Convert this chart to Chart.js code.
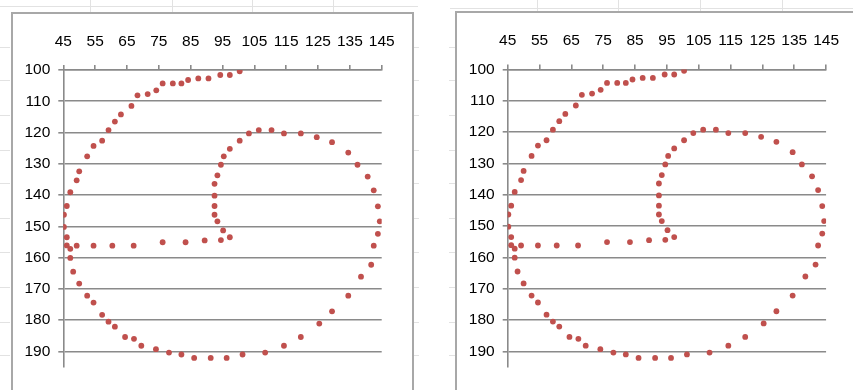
<!DOCTYPE html>
<html>
<head>
<meta charset="utf-8">
<title>Scatter 6</title>
<script src="https://cdn.jsdelivr.net/npm/chart.js@4.4.1/dist/chart.umd.min.js"></script>
<style>
    html, body { margin: 0; padding: 0; background: #fff; }
    body { width: 853px; height: 390px; position: relative; overflow: hidden; }
    .frame { position: absolute; border: 2px solid #a8a8a8; background: #fff; box-sizing: border-box; }
    .sheet { position: absolute; background: #e2e2e2; }
    canvas { position: absolute; }
</style>
</head>
<body>
<div class="frame" style="left:11px; top:12px; width:403px; height:400px;"></div>
<div class="frame" style="left:455px; top:11px; width:420px; height:400px;"></div>
<canvas id="chartLeft" width="399" height="376" style="left:13px; top:14px;"></canvas>
<canvas id="chartRight" width="396" height="377" style="left:457px; top:13px;"></canvas>
<script>
// values (x axis on top, y axis reversed)
const xTickValues = [45, 55, 65, 75, 85, 95, 105, 115, 125, 135, 145];
const yTickValues = [100, 110, 120, 130, 140, 150, 160, 170, 180, 190];

// outer loop: top arc, left side, bottom, right side, back over the inner top
const outerX = [100.4, 97.3, 94.3, 90.6, 87.4, 84.2, 82.1, 79.4, 76.2, 74.2, 71.5, 68.3, 66.4, 63.1, 61.2,
    59.2, 57.2, 54.5, 52.5, 50.0, 49.2, 47.2, 46.1, 45.2, 45.2, 46.1, 46.1, 47.2, 47.2, 48.1, 50.0,
    52.5, 54.5, 57.2, 59.2, 61.2, 64.4, 67.2, 69.5, 74.1, 78.2, 82.1, 86.1, 91.3, 96.3, 101.3, 108.4,
    114.3, 119.6, 125.4, 129.4, 134.5, 138.5, 141.7, 142.5, 143.8, 144.4, 143.8, 142.5, 140.6, 137.4,
    134.5, 129.4, 124.6, 119.6, 114.3, 110.4, 106.4, 103.3, 100.4, 97.3, 95.4];
const outerY = [100.4, 101.6, 101.6, 102.7, 102.7, 103.2, 104.3, 104.3, 104.3, 106.5, 107.7, 108.1, 111.5, 114.2, 116.5,
    119.2, 122.6, 124.3, 127.6, 132.4, 135.3, 139.1, 143.5, 146.3, 150.2, 153.5, 156.1, 157.2, 160.1, 164.5, 168.3,
    172.2, 174.4, 178.3, 180.5, 182.1, 185.4, 186.0, 188.2, 189.3, 190.4, 191.0, 192.1, 192.1, 192.1, 191.0, 190.4,
    188.2, 185.4, 181.1, 177.2, 172.2, 166.1, 162.3, 156.2, 152.4, 148.4, 143.6, 138.5, 134.1, 130.3,
    126.4, 123.1, 121.5, 120.3, 120.3, 119.2, 119.2, 120.3, 122.6, 125.2, 127.6];

// inner stem going down, with the little hook
const stemX = [94.5, 93.4, 92.5, 92.5, 92.5, 92.5, 93.4, 95.2, 97.3];
const stemY = [130.3, 133.7, 136.4, 140.2, 143.5, 146.3, 148.4, 151.3, 153.5];

// cross bar back to the left side
const barX = [94.5, 89.4, 83.4, 76.2, 67.1, 60.4, 54.5, 49.2];
const barY = [154.4, 154.5, 155.1, 155.1, 156.2, 156.2, 156.2, 156.2];

const pointColor = '#C0504D';
const gridColor = '#8a8a8a';
const labelFont = { family: '"Liberation Sans", Arial, sans-serif', size: 15.5 };

function buildPoints() {
    const pts = [];
    outerX.forEach((x, i) => pts.push({ x: x, y: outerY[i] }));
    stemX.forEach((x, i) => pts.push({ x: x, y: stemY[i] }));
    barX.forEach((x, i) => pts.push({ x: x, y: barY[i] }));
    return pts;
}

// box = fixed sizes so the plot area lands where the picture has it
function makeChart(canvasId, box) {
    const ctx = document.getElementById(canvasId).getContext('2d');
    return new Chart(ctx, {
        type: 'scatter',
        data: {
            datasets: [{
                data: buildPoints(),
                pointRadius: 2.9,
                pointHoverRadius: 2.9,
                pointBackgroundColor: pointColor,
                pointBorderWidth: 0,
                showLine: false
            }]
        },
        options: {
            responsive: false,
            animation: false,
            devicePixelRatio: 1,
            layout: { padding: { left: 0, top: 0, right: box.right, bottom: box.bottom } },
            plugins: { legend: { display: false }, tooltip: { enabled: false } },
            scales: {
                x: {
                    type: 'linear',
                    position: 'top',
                    min: 45, max: 145,
                    afterBuildTicks: s => { s.ticks = xTickValues.map(v => ({ value: v })); },
                    afterFit: s => { s.height = box.top; },
                    grid: { drawOnChartArea: false, drawTicks: true, tickLength: 5, color: gridColor, lineWidth: 1.6 },
                    border: { color: gridColor, width: 1.6 },
                    ticks: { autoSkip: false, maxRotation: 0, padding: 14, color: '#000', font: labelFont }
                },
                y: {
                    type: 'linear',
                    reverse: true,
                    min: 100, max: 195,
                    afterBuildTicks: s => { s.ticks = yTickValues.map(v => ({ value: v })); },
                    afterFit: s => { s.width = box.left; },
                    grid: { drawTicks: true, tickLength: 5, color: gridColor, lineWidth: 1.6 },
                    border: { color: gridColor, width: 1.6 },
                    ticks: { autoSkip: false, padding: 8, color: '#000', font: labelFont }
                }
            }
        }
    });
}

// faint spreadsheet cell lines peeking out round the charts
function sheetLine(x, y, w, h) {
    const d = document.createElement('div');
    d.className = 'sheet';
    d.style.left = x + 'px';
    d.style.top = y + 'px';
    d.style.width = w + 'px';
    d.style.height = h + 'px';
    document.body.insertBefore(d, document.body.firstChild);
}

const sheetRows = [47, 80, 115, 150, 183, 218, 252, 287, 322, 355];
const sheetColsLeft = [90, 172, 252, 333];
const sheetColsRight = [537, 618, 700, 782];

sheetLine(0, 6, 418, 1);
sheetLine(450, 8, 403, 1);
sheetColsLeft.forEach(x => sheetLine(x, 0, 1, 12));
sheetColsRight.forEach(x => sheetLine(x, 0, 1, 11));
sheetRows.forEach(y => {
    sheetLine(0, y, 10, 1);
    sheetLine(413, y, 6, 1);
    sheetLine(449, y, 7, 1);
});

makeChart('chartLeft', { left: 50.3, top: 56, right: 30.3, bottom: 23 });
makeChart('chartRight', { left: 50.7, top: 56.5, right: 21.3, bottom: 23 });
</script>
</body>
</html>
